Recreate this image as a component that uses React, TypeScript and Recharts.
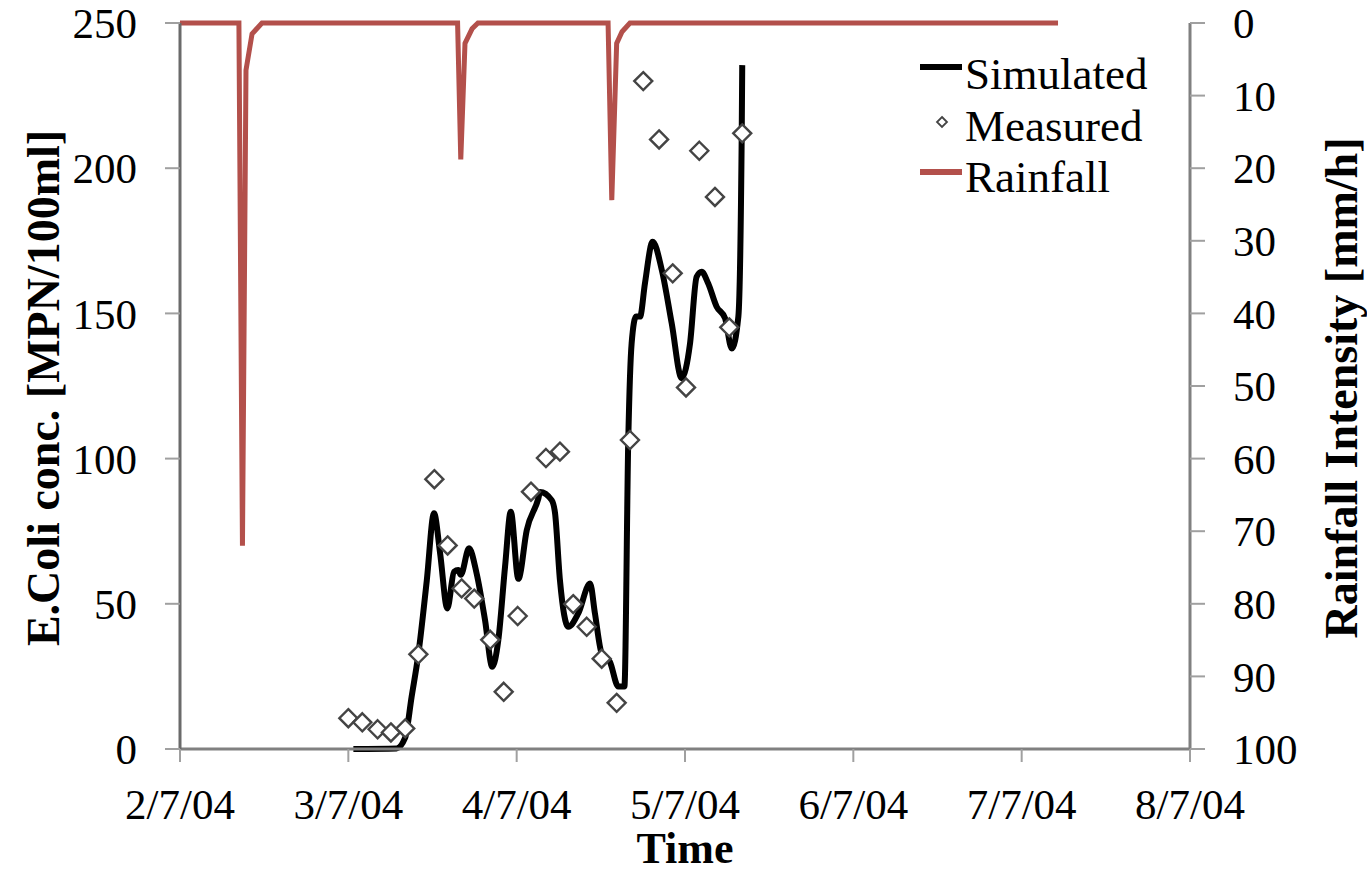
import {
  ComposedChart,
  Line,
  Scatter,
  XAxis,
  YAxis,
  Legend,
} from 'recharts'

// x values are in months after 2/7/04 (axis ticks are evenly spaced)
const TICK_LABELS = ['2/7/04', '3/7/04', '4/7/04', '5/7/04', '6/7/04', '7/7/04', '8/7/04']
const X_TICKS = [0, 1, 2, 3, 4, 5, 6]
const LEFT_TICKS = [0, 50, 100, 150, 200, 250]
const RIGHT_TICKS = [0, 10, 20, 30, 40, 50, 60, 70, 80, 90, 100]

const simT = [
  1.03, 1.287, 1.337, 1.376, 1.416, 1.466, 1.509, 1.545, 1.588, 1.628, 1.653, 1.668, 1.717, 1.762,
  1.812, 1.855, 1.891, 1.931, 1.965, 2.01, 2.06, 2.129, 2.139, 2.208, 2.228, 2.257, 2.307, 2.366,
  2.436, 2.465, 2.505, 2.554, 2.604, 2.64, 2.663, 2.683, 2.709, 2.733, 2.762, 2.808, 2.862, 2.921,
  2.98, 3.03, 3.069, 3.099, 3.138, 3.188, 3.238, 3.278, 3.317, 3.337, 3.34,
]
const simV = [
  0, 0.2, 3.8, 18, 32.7, 58, 81.2, 67.5, 48.4, 61, 61.6, 60, 69.1, 60.5,
  44.4, 28.3, 37.5, 62.8, 81.7, 58.6, 75.4, 86.3, 88.5, 85.7, 81.2, 58.2, 42.1, 46.7,
  57, 46.7, 32.9, 30, 21.5, 21.5, 106.4, 139.7, 148.9, 148.9, 160.3, 174.7, 165, 146.6,
  127.7, 139.7, 162.6, 164.3, 160.3, 152.3, 148.3, 137.9, 148.9, 212, 235.5,
]

const measT = [
  1.0, 1.083, 1.174, 1.253, 1.338, 1.416, 1.511, 1.59, 1.673, 1.748, 1.843, 1.923, 2.006, 2.085,
  2.174, 2.257, 2.336, 2.416, 2.505, 2.594, 2.673, 2.752, 2.846, 2.927, 3.006, 3.085, 3.178, 3.263, 3.34,
]
const measV = [
  10.6, 9.2, 6.8, 5.7, 7.1, 32.6, 92.9, 70.1, 55.3, 51.8, 37.6, 19.7, 45.8, 88.6,
  100.2, 102.4, 49.9, 42.1, 31.1, 15.9, 106.4, 230, 209.9, 163.8, 124.5, 206, 190.1, 145.2, 212,
]

const rainT = [
  0, 0.35, 0.371, 0.392, 0.428, 0.487, 1.649, 1.668, 1.693, 1.735, 1.77, 2.543, 2.565, 2.594, 2.626, 2.673, 5.216,
]
const rainV = [0, 0, 72, 6.5, 1.5, 0, 0, 18.8, 2.8, 0.8, 0, 0, 24.4, 2.8, 1.2, 0, 0]

const simData = simT.map((t, i) => ({ t, v: simV[i] }))
const measData = measT.map((t, i) => ({ t, v: measV[i] }))
const rainData = rainT.map((t, i) => ({ t, v: rainV[i] }))

const FONT = '"Liberation Serif", "Times New Roman", serif'
const AXIS_COLOR = '#808080'
const RAIN_COLOR = '#b3504b'
const tickStyle = { fill: '#000', fontSize: 43, fontFamily: FONT }

function Diamond({ cx, cy }: { cx?: number; cy?: number }) {
  if (cx == null || cy == null) return null
  const r = 9
  return (
    <path
      d={`M${cx},${cy - r} L${cx + r},${cy} L${cx},${cy + r} L${cx - r},${cy} Z`}
      fill="#fff"
      stroke="#444"
      strokeWidth={2.4}
    />
  )
}

function rotatedTitle(text: string, dxFromAxis: number) {
  return (props: any) => {
    const { x, y, height } = props.viewBox
    const cx = x + dxFromAxis
    const cy = y + height / 2 + 2
    return (
      <text
        x={cx}
        y={cy}
        transform={`rotate(-90 ${cx} ${cy})`}
        textAnchor="middle"
        dominantBaseline="central"
        fontFamily={FONT}
        fontWeight="bold"
        fontSize={46}
        fill="#000"
      >
        {text}
      </text>
    )
  }
}

function LegendBox() {
  const row = { display: 'flex', alignItems: 'flex-start', height: 51.5, lineHeight: '51.5px' }
  return (
    <div style={{ fontFamily: FONT, fontSize: 45, color: '#000' }}>
      <div style={row}>
        <svg width={47} height={51.5}>
          <line x1={2} y1={18} x2={44} y2={18} stroke="#000" strokeWidth={6} />
        </svg>
        <span>Simulated</span>
      </div>
      <div style={row}>
        <svg width={47} height={51.5}>
          <path d="M24,16 L29,21 L24,26 L19,21 Z" fill="#fff" stroke="#444" strokeWidth={1.8} />
        </svg>
        <span>Measured</span>
      </div>
      <div style={row}>
        <svg width={47} height={51.5}>
          <line x1={2} y1={20} x2={44} y2={20} stroke={RAIN_COLOR} strokeWidth={6} />
        </svg>
        <span>Rainfall</span>
      </div>
    </div>
  )
}

export default function App() {
  return (
    <div style={{ position: 'absolute', left: 0, top: 0, background: '#fff' }}>
      <ComposedChart width={1367} height={872} margin={{ top: 23, right: 0, bottom: 0, left: 0 }}>
        <XAxis
          xAxisId="main"
          dataKey="t"
          type="number"
          domain={[0, 6]}
          ticks={X_TICKS}
          tickFormatter={(v: number) => TICK_LABELS[v]}
          height={123}
          tick={tickStyle}
          tickSize={13}
          tickMargin={26}
          axisLine={{ stroke: AXIS_COLOR, strokeWidth: 3 }}
          tickLine={{ stroke: '#a0a0a0', strokeWidth: 2 }}
          interval={0}
          label={{
            value: 'Time',
            position: 'insideBottom',
            offset: 9,
            fontFamily: FONT,
            fontWeight: 'bold',
            fontSize: 44,
            fill: '#000',
          }}
        />
        <XAxis
          xAxisId="top"
          dataKey="t"
          type="number"
          orientation="top"
          domain={[0, 6]}
          height={0}
          tick={false}
          tickLine={false}
          axisLine={{ stroke: AXIS_COLOR, strokeWidth: 2 }}
        />
        <YAxis
          yAxisId="left"
          type="number"
          domain={[0, 250]}
          ticks={LEFT_TICKS}
          width={180}
          tick={tickStyle}
          tickSize={15}
          tickMargin={28}
          axisLine={{ stroke: '#6a6a6a', strokeWidth: 3 }}
          tickLine={{ stroke: '#a0a0a0', strokeWidth: 2 }}
          interval={0}
          label={rotatedTitle('E.Coli conc. [MPN/100ml]', 43)}
        />
        <YAxis
          yAxisId="right"
          orientation="right"
          type="number"
          domain={[0, 100]}
          reversed
          ticks={RIGHT_TICKS}
          width={177}
          tick={tickStyle}
          tickSize={15}
          tickMargin={28}
          axisLine={{ stroke: AXIS_COLOR, strokeWidth: 3 }}
          tickLine={{ stroke: '#a0a0a0', strokeWidth: 2 }}
          interval={0}
          label={rotatedTitle('Rainfall Intensity [mm/h]', 151)}
        />
        <Legend
          layout="vertical"
          align="center"
          verticalAlign="middle"
          wrapperStyle={{ left: 918, top: 49, width: 260 }}
          content={() => <LegendBox />}
        />
        <Line
          xAxisId="main"
          yAxisId="right"
          data={rainData}
          dataKey="v"
          name="Rainfall"
          type="linear"
          stroke={RAIN_COLOR}
          strokeWidth={5}
          dot={false}
          activeDot={false}
          isAnimationActive={false}
        />
        <Line
          xAxisId="main"
          yAxisId="left"
          data={simData}
          dataKey="v"
          name="Simulated"
          type="monotone"
          stroke="#000"
          strokeWidth={6}
          dot={false}
          activeDot={false}
          isAnimationActive={false}
        />
        <Scatter
          xAxisId="main"
          yAxisId="left"
          data={measData}
          dataKey="v"
          name="Measured"
          shape={(p: any) => <Diamond cx={p.cx} cy={p.cy} />}
          isAnimationActive={false}
        />
      </ComposedChart>
    </div>
  )
}
